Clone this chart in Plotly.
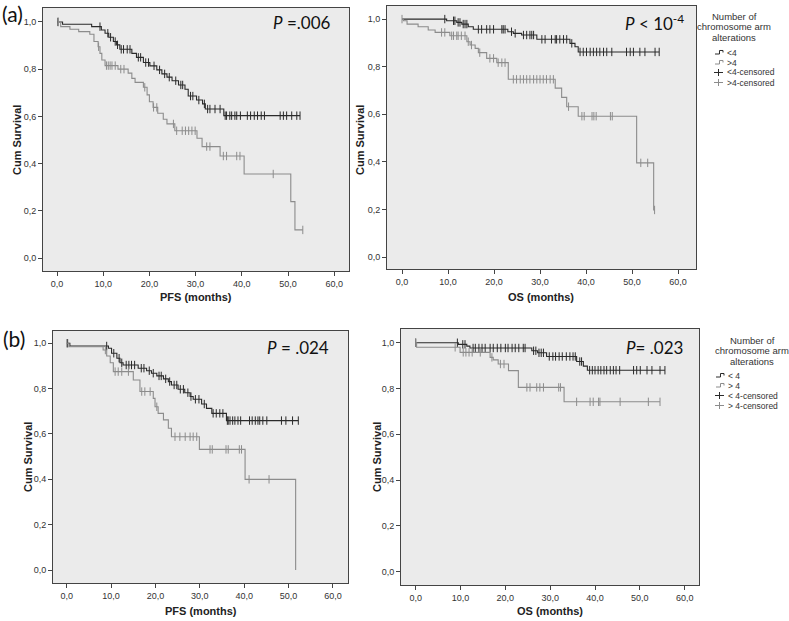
import plotly.graph_objects as go

W, H = 789, 621

# ---------------- data ----------------
xtick_vals = [0, 10, 20, 30, 40, 50, 60]
xtick_text = ["0,0", "10,0", "20,0", "30,0", "40,0", "50,0", "60,0"]
ytick_vals = [0, 0.2, 0.4, 0.6, 0.8, 1.0]
ytick_text = ["0,0", "0,2", "0,4", "0,6", "0,8", "1,0"]

group_names_a = ["<4", ">4", "<4-censored", ">4-censored"]
group_names_b = ["< 4", "> 4", "< 4-censored", "> 4-censored"]
legend_title = ["Number of", "chromosome arm", "alterations"]

# (a) PFS
a_pfs_lt4_t = [1.2, 7.5, 9.6, 10.4, 11.2, 12.2, 12.9, 13.6, 16.2, 17.2, 18.7, 20.1, 21.6, 22.7,
               23.8, 24.9, 26.3, 27.7, 28.4, 30.2, 31.5, 32.1, 36.1]
a_pfs_lt4_s = [0.99, 0.98, 0.966, 0.952, 0.935, 0.917, 0.903, 0.884, 0.867, 0.85, 0.828, 0.814,
               0.797, 0.78, 0.766, 0.751, 0.733, 0.715, 0.686, 0.669, 0.653, 0.631, 0.603]
a_pfs_lt4_c = [0.2, 9.3, 11.0, 11.6, 12.6, 13.1, 13.9, 14.4, 15.2, 15.8, 17.6, 18.1, 19.2, 19.8,
               21.0, 22.2, 23.3, 24.3, 25.7, 26.8, 27.2, 28.9, 29.4, 30.7, 31.9, 32.6, 33.1, 34.2,
               35.3, 36.4, 36.7, 37.4, 37.8, 38.5, 38.9, 39.7, 41.2, 41.9, 42.7, 43.4, 44.2, 44.9,
               48.3, 49.0, 49.7, 50.8, 51.9, 52.6]
a_pfs_gt4_t = [0.8, 2.8, 4.7, 7.1, 8.0, 8.9, 9.3, 9.7, 10.4, 13.2, 15.4, 16.2, 16.9, 18.7, 19.5,
               20.0, 20.8, 21.8, 23.0, 23.8, 25.5, 30.3, 31.4, 35.3, 40.5, 50.6, 51.5]
a_pfs_gt4_s = [0.98, 0.969, 0.959, 0.948, 0.917, 0.895, 0.867, 0.839, 0.815, 0.8, 0.783, 0.761,
               0.744, 0.723, 0.691, 0.662, 0.638, 0.613, 0.588, 0.568, 0.539, 0.507, 0.472, 0.432,
               0.356, 0.239, 0.119]
a_pfs_gt4_c = [0.3, 9.0, 10.7, 11.1, 11.5, 11.9, 12.6, 13.8, 14.5, 19.0, 20.9, 21.6, 25.2, 25.9,
               27.1, 27.8, 28.5, 29.2, 29.9, 32.4, 33.1, 36.0, 36.7, 38.9, 39.6, 46.8, 53.2]

# (a) OS
a_os_lt4_t = [9.7, 11.9, 13.0, 14.4, 15.5, 23.0, 24.2, 26.0, 29.3, 36.5, 37.6, 38.3]
a_os_lt4_s = [0.993, 0.986, 0.979, 0.968, 0.957, 0.947, 0.94, 0.933, 0.915, 0.898, 0.884, 0.862]
a_os_lt4_c = [9.3, 11.2, 11.5, 12.2, 12.6, 13.3, 13.7, 14.1, 16.6, 17.3, 18.4, 19.1, 19.9, 21.7,
              22.0, 22.4, 23.8, 24.6, 26.4, 27.1, 27.8, 28.2, 28.6, 30.4, 31.1, 32.5, 33.3, 33.6,
              34.3, 35.1, 35.8, 36.9, 38.7, 39.4, 40.1, 40.9, 41.6, 42.3, 43.0, 43.8, 44.5, 45.6,
              48.8, 49.6, 50.3, 51.7, 52.8, 55.0, 55.9]
a_os_gt4_t = [0.3, 1.1, 3.5, 5.7, 7.2, 10.4, 14.1, 14.8, 15.9, 16.6, 18.4, 20.6, 23.1, 33.3, 34.7,
              35.8, 38.3, 51.0, 54.7]
a_os_gt4_s = [0.993, 0.979, 0.968, 0.954, 0.944, 0.93, 0.905, 0.891, 0.877, 0.859, 0.835, 0.817,
              0.747, 0.71, 0.671, 0.632, 0.592, 0.396, 0.198]
a_os_gt4_c = [0.0, 8.6, 9.3, 10.8, 11.2, 11.9, 12.2, 12.9, 13.7, 14.4, 15.1, 16.9, 19.1, 19.9,
              20.9, 21.7, 22.4, 24.2, 24.9, 25.7, 26.4, 27.1, 27.8, 28.6, 29.3, 30.0, 30.7, 31.4,
              32.2, 32.9, 36.2, 39.1, 39.6, 41.3, 41.7, 42.2, 45.3, 45.7, 51.9, 53.4, 54.9]

# (b) PFS
b_pfs_lt4_t = [0.7, 9.4, 10.1, 11.3, 12.0, 12.7, 16.1, 18.0, 19.1, 20.3, 21.8, 22.9, 23.6, 25.1,
               26.6, 27.8, 28.5, 30.4, 31.5, 32.7, 36.0]
b_pfs_lt4_s = [0.988, 0.978, 0.956, 0.934, 0.914, 0.904, 0.89, 0.879, 0.868, 0.856, 0.843, 0.831,
               0.816, 0.797, 0.782, 0.765, 0.753, 0.732, 0.713, 0.691, 0.659]
b_pfs_lt4_c = [0.2, 9.0, 10.6, 11.8, 12.4, 13.4, 14.0, 14.6, 15.3, 16.8, 17.4, 18.6, 19.5, 20.8,
               21.3, 22.3, 23.2, 24.2, 24.8, 25.6, 26.3, 27.3, 28.0, 29.0, 29.8, 31.0, 33.0, 33.7,
               34.5, 35.2, 36.2, 36.4, 36.8, 37.4, 37.9, 38.6, 39.2, 41.2, 41.8, 42.5, 43.1, 43.5,
               44.2, 45.1, 48.4, 49.4, 50.9, 52.2]
b_pfs_gt4_t = [0.5, 8.2, 9.0, 9.8, 10.5, 15.0, 16.5, 19.5, 19.9, 20.6, 21.8, 22.9, 23.6, 29.9,
               40.2, 51.6]
b_pfs_gt4_s = [0.985, 0.97, 0.944, 0.914, 0.875, 0.838, 0.787, 0.757, 0.72, 0.691, 0.662, 0.625,
               0.588, 0.532, 0.4, 0.0]
b_pfs_gt4_c = [0.0, 8.7, 10.9, 11.6, 12.4, 13.9, 16.9, 17.6, 18.8, 20.3, 24.4, 25.5, 26.7, 27.8,
               28.5, 29.3, 32.3, 32.8, 35.9, 36.4, 38.9, 39.4, 41.1, 45.6]

# (b) OS
b_os_lt4_t = [9.5, 11.4, 12.1, 25.9, 27.2, 29.2, 35.9, 37.4, 38.3]
b_os_lt4_s = [0.993, 0.985, 0.977, 0.965, 0.956, 0.94, 0.918, 0.898, 0.88]
b_os_lt4_c = [0.0, 9.3, 10.5, 11.0, 12.8, 13.3, 14.1, 14.8, 15.5, 16.6, 17.3, 18.2, 19.0, 20.0,
              20.6, 21.5, 22.2, 23.0, 24.0, 24.4, 26.3, 26.8, 27.5, 28.0, 28.5, 29.8, 30.6, 31.2,
              32.0, 32.7, 33.6, 34.4, 35.1, 35.6, 36.6, 37.0, 38.8, 39.4, 40.0, 40.7, 41.3, 42.0,
              42.6, 43.4, 44.1, 44.7, 45.5, 48.6, 49.3, 50.1, 51.6, 52.7, 54.5, 55.6]
b_os_gt4_t = [0.2, 9.9, 16.6, 17.3, 18.4, 20.7, 22.9, 33.1]
b_os_gt4_s = [0.98, 0.958, 0.936, 0.925, 0.907, 0.878, 0.805, 0.742]
b_os_gt4_c = [0.0, 8.8, 10.6, 11.2, 11.9, 12.6, 14.4, 17.0, 18.9, 19.7, 24.8, 25.5, 27.0, 27.7,
              28.5, 31.9, 32.3, 35.9, 38.9, 39.6, 40.8, 41.1, 45.6, 51.9, 54.5]

p_texts = ["<i>P</i> =.006", "<i>P</i> < 10<sup>-4</sup>", "<i>P</i> = .024", "<i>P</i>= .023"]
x_titles = ["PFS (months)", "OS (months)", "PFS (months)", "OS (months)"]

# ---------------- style / layout ----------------
DARK = "#2a2a2a"
GRAY = "#8c8c8c"
BG = "#ebebeb"
AXC = "#444444"
TICKFONT = dict(family="Liberation Sans, Arial", size=9, color="#333333")

def px(x):
    return x / W

def py(y):
    return 1 - y / H

# panel boxes in pixels: (left, top, right, bottom), axis ranges
panels = [
    dict(box=(43, 8, 349, 271), xr=[-3.03, 63.2], yr=[-0.055, 1.059]),
    dict(box=(387, 6, 696, 269), xr=[-3.26, 63.9], yr=[-0.05, 1.055]),
    dict(box=(53, 331, 348, 583), xr=[-3.1, 63.4], yr=[-0.057, 1.054]),
    dict(box=(401, 329, 699, 585), xr=[-3.28, 63.2], yr=[-0.058, 1.06]),
]

curves = [
    [(a_pfs_lt4_t, a_pfs_lt4_s, a_pfs_lt4_c), (a_pfs_gt4_t, a_pfs_gt4_s, a_pfs_gt4_c)],
    [(a_os_lt4_t, a_os_lt4_s, a_os_lt4_c), (a_os_gt4_t, a_os_gt4_s, a_os_gt4_c)],
    [(b_pfs_lt4_t, b_pfs_lt4_s, b_pfs_lt4_c), (b_pfs_gt4_t, b_pfs_gt4_s, b_pfs_gt4_c)],
    [(b_os_lt4_t, b_os_lt4_s, b_os_lt4_c), (b_os_gt4_t, b_os_gt4_s, b_os_gt4_c)],
]


def surv_at(times, surv, t):
    s = 1.0
    for ti, si in zip(times, surv):
        if ti <= t:
            s = si
    return s


fig = go.Figure()
layout = dict()
for i, p in enumerate(panels):
    k = "" if i == 0 else str(i + 1)
    l, t, r, b = p["box"]
    layout["xaxis" + k] = dict(
        domain=[px(l), px(r)], range=p["xr"], anchor="y" + k,
        tickvals=xtick_vals, ticktext=xtick_text, ticks="outside", ticklen=4,
        tickcolor=AXC, tickfont=TICKFONT, showline=True, mirror=True, linecolor=AXC,
        linewidth=1, showgrid=False, zeroline=False, fixedrange=True)
    layout["yaxis" + k] = dict(
        domain=[py(b), py(t)], range=p["yr"], anchor="x" + k,
        tickvals=ytick_vals, ticktext=ytick_text, ticks="outside", ticklen=4,
        tickcolor=AXC, tickfont=TICKFONT, showline=True, mirror=True, linecolor=AXC,
        linewidth=1, showgrid=False, zeroline=False, fixedrange=True)
    for (times, surv, cens), color in zip(curves[i], [DARK, GRAY]):
        end = max(max(cens), times[-1])
        xs = [0.0] + list(times)
        ys = [1.0] + list(surv)
        if end > xs[-1]:
            xs.append(end)
            ys.append(ys[-1])
        fig.add_trace(go.Scatter(x=xs, y=ys, mode="lines", line=dict(shape="hv", color=color, width=1.1),
                                 xaxis="x" + k, yaxis="y" + k, showlegend=False, hoverinfo="skip"))
        fig.add_trace(go.Scatter(x=cens, y=[surv_at(times, surv, c) for c in cens], mode="markers",
                                 marker=dict(symbol="line-ns", size=6, line=dict(width=1, color=color)),
                                 xaxis="x" + k, yaxis="y" + k, showlegend=False, hoverinfo="skip"))

annotations = []
shapes = []

# panel letters
annotations.append(dict(x=px(0), y=py(14), xref="paper", yref="paper", text="(a)", showarrow=False,
                        xanchor="left", yanchor="middle", font=dict(family="Lato, Open Sans", size=21, color="#111")))
annotations.append(dict(x=px(1), y=py(338), xref="paper", yref="paper", text="(b)", showarrow=False,
                        xanchor="left", yanchor="middle", font=dict(family="Lato, Open Sans", size=21, color="#111")))

# P values
p_pos = [(333, 22), (686, 22), (331, 347), (685, 347)]
for txt, (x, y) in zip(p_texts, p_pos):
    annotations.append(dict(x=px(x), y=py(y), xref="paper", yref="paper", text=txt, showarrow=False,
                            xanchor="right", yanchor="middle", font=dict(family="Lato, Open Sans", size=17, color="#111")))

# axis titles
ylab_pos = [(17, 140), (360, 140), (28, 457), (377, 457)]
for (x, y) in ylab_pos:
    annotations.append(dict(x=px(x), y=py(y), xref="paper", yref="paper", text="<b>Cum Survival</b>",
                            showarrow=False, textangle=-90, xanchor="center", yanchor="middle",
                            font=dict(family="Liberation Sans, Arial", size=11, color="#222")))
xlab_pos = [(196, 297), (541, 297), (201, 611), (550, 611)]
for txt, (x, y) in zip(x_titles, xlab_pos):
    annotations.append(dict(x=px(x), y=py(y), xref="paper", yref="paper", text="<b>" + txt + "</b>",
                            showarrow=False, xanchor="center", yanchor="middle",
                            font=dict(family="Liberation Sans, Arial", size=11, color="#222")))

# legends (manual, SPSS style)
def add_legend(cx, title_y, item_y0, icon_x, names):
    for j, line in enumerate(legend_title):
        annotations.append(dict(x=px(cx), y=py(title_y + j * 10.5), xref="paper", yref="paper", text=line,
                                showarrow=False, xanchor="center", yanchor="middle",
                                font=dict(family="Liberation Sans, Arial", size=9.5, color="#333")))
    for j, (name, color) in enumerate(zip(names, [DARK, GRAY, DARK, GRAY])):
        yy = item_y0 + j * 10
        annotations.append(dict(x=px(icon_x + 10), y=py(yy), xref="paper", yref="paper", text=name,
                                showarrow=False, xanchor="left", yanchor="middle",
                                font=dict(family="Liberation Sans, Arial", size=8.5, color="#333")))
        if j < 2:
            path = "M {:.5f},{:.5f} L {:.5f},{:.5f} L {:.5f},{:.5f} L {:.5f},{:.5f} L {:.5f},{:.5f}".format(
                px(icon_x), py(yy + 1.5), px(icon_x + 4.5), py(yy + 1.5), px(icon_x + 4.5), py(yy - 2),
                px(icon_x + 8), py(yy - 2), px(icon_x + 8), py(yy))
            shapes.append(dict(type="path", xref="paper", yref="paper", path=path,
                               line=dict(color=color, width=1)))
        else:
            shapes.append(dict(type="line", xref="paper", yref="paper", x0=px(icon_x - 1), x1=px(icon_x + 8),
                               y0=py(yy), y1=py(yy), line=dict(color=color, width=1)))
            shapes.append(dict(type="line", xref="paper", yref="paper", x0=px(icon_x + 3.5), x1=px(icon_x + 3.5),
                               y0=py(yy - 3.5), y1=py(yy + 3.5), line=dict(color=color, width=1)))

add_legend(734, 16.5, 52.5, 715, group_names_a)
add_legend(752, 340, 375.5, 716, group_names_b)

fig.update_layout(
    width=W, height=H, margin=dict(l=0, r=0, t=0, b=0),
    paper_bgcolor="white", plot_bgcolor=BG, showlegend=False, hovermode=False,
    annotations=annotations, shapes=shapes, **layout)

fig.write_html("out.html", config={"displayModeBar": False, "staticPlot": True},
               post_script="document.body.style.margin='0';document.body.style.padding='0';")
